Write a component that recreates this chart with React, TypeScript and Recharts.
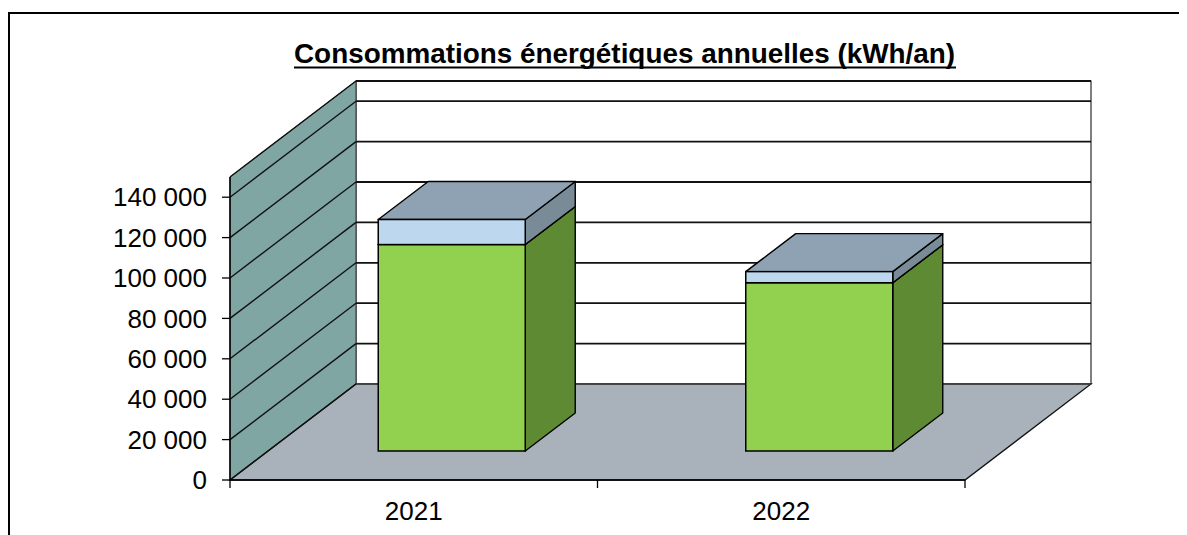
import React from 'react';
import { BarChart, Bar, XAxis, YAxis, CartesianGrid } from 'recharts';

if (typeof document !== 'undefined') {
  document.documentElement.style.overflow = 'hidden';
}

// ---- data ----
const categories = ['2021', '2022'];
const greenSeries = [102200, 83300];
const blueSeries = [12400, 5500];
const yTicks = [0, 20000, 40000, 60000, 80000, 100000, 120000, 140000];
const yMax = 150000;
const title = 'Consommations énergétiques annuelles (kWh/an)';

const data = categories.map((c, i) => ({ year: c, green: greenSeries[i], blue: blueSeries[i] }));

// ---- 3D geometry / styles ----
const FONT = '"Liberation Sans", Arial, Helvetica, sans-serif';
const WALL_DX = 126;
const WALL_DY = -96;
const BAR_FX = 38;
const BAR_FY = -29;
const BAR_DX = 50;
const BAR_DY = -38;

const fmt = (v: number) => String(v).replace(/\B(?=(\d{3})+(?!\d))/g, ' ');

const gridLine = (p: any) => {
  const { x1, x2, y1, index, horizontalPoints } = p;
  const pts: number[] = Array.isArray(horizontalPoints) && horizontalPoints.length ? horizontalPoints : [y1];
  const top = Math.min(...pts);
  const bottom = Math.max(...pts);
  const left = x1;
  const right = x2;
  const isBottom = Math.abs(y1 - bottom) < 0.5;
  return (
    <g key={`gl-${index}`}>
      {index === 0 && (
        <g>
          <rect
            x={left + WALL_DX}
            y={top + WALL_DY}
            width={right - left}
            height={bottom - top}
            fill="#ffffff"
            stroke="#000"
            strokeWidth={1}
          />
          <polygon
            points={`${left},${bottom} ${left + WALL_DX},${bottom + WALL_DY} ${left + WALL_DX},${top + WALL_DY} ${left},${top}`}
            fill="#80A6A4"
            stroke="#333"
            strokeWidth={1}
          />
          <polygon
            points={`${left},${bottom} ${right},${bottom} ${right + WALL_DX},${bottom + WALL_DY} ${left + WALL_DX},${bottom + WALL_DY}`}
            fill="#A9B2BB"
            stroke="#111"
            strokeWidth={1.3}
          />
        </g>
      )}
      <line
        x1={left + WALL_DX}
        y1={y1 + WALL_DY}
        x2={right + WALL_DX}
        y2={y1 + WALL_DY}
        stroke={isBottom ? '#555' : '#111'}
        strokeWidth={isBottom ? 1 : 1.8}
      />
      <line
        x1={left}
        y1={y1}
        x2={left + WALL_DX}
        y2={y1 + WALL_DY}
        stroke="#111"
        strokeWidth={1.4}
      />
    </g>
  );
};

const makeBox = (front: string, side: string, topColor: string | null) => (p: any) => {
  const { x, y, width, height } = p;
  if (x == null || y == null || !width || !height) return <g />;
  const fx = x + BAR_FX;
  const fy = y + BAR_FY;
  return (
    <g>
      <polygon
        points={`${fx + width},${fy} ${fx + width + BAR_DX},${fy + BAR_DY} ${fx + width + BAR_DX},${fy + height + BAR_DY} ${fx + width},${fy + height}`}
        fill={side}
        stroke="#000"
        strokeWidth={1.4}
        strokeLinejoin="round"
      />
      {topColor && (
        <polygon
          points={`${fx},${fy} ${fx + BAR_DX},${fy + BAR_DY} ${fx + width + BAR_DX},${fy + BAR_DY} ${fx + width},${fy}`}
          fill={topColor}
          stroke="#000"
          strokeWidth={1.4}
          strokeLinejoin="round"
        />
      )}
      <rect x={fx} y={fy} width={width} height={height} fill={front} stroke="#000" strokeWidth={1.5} />
    </g>
  );
};

const XTick = (p: any) => {
  const { x, y, payload, index, visibleTicksCount } = p;
  const half = payload && typeof payload.offset === 'number' ? payload.offset : 0;
  const xs = [x - half];
  if (index === visibleTicksCount - 1) xs.push(x + half);
  return (
    <g>
      {xs.map((lx, i) => (
        <line key={i} x1={lx} y1={y - 8} x2={lx} y2={y} stroke="#000" strokeWidth={1.3} />
      ))}
      <text x={x} y={y + 32} textAnchor="middle" fontSize={26} fontFamily={FONT} fill="#000">
        {payload.value}
      </text>
    </g>
  );
};

export default function App() {
  return (
    <div style={{ position: 'relative', width: 1171, height: 527 }}>
      <div
        style={{
          position: 'absolute',
          left: 0,
          top: 4,
          width: 1179,
          height: 523,
          borderTop: '2px solid #000',
          borderLeft: '2px solid #000',
          boxSizing: 'border-box',
        }}
      />
      <div style={{ position: 'absolute', left: -8, top: -8 }}>
        <BarChart
          width={1187}
          height={535}
          data={data}
          margin={{ top: 177, right: 222, bottom: 15, left: 100 }}
          barCategoryGap="30%"
        >
          <CartesianGrid vertical={false} horizontal={gridLine} stroke="#111" />
          <XAxis
            dataKey="year"
            height={40}
            tickLine={false}
            tickSize={8}
            tickMargin={0}
            axisLine={{ stroke: '#000', strokeWidth: 1.5 }}
            tick={<XTick />}
            interval={0}
          />
          <YAxis
            type="number"
            width={130}
            domain={[0, yMax]}
            ticks={yTicks}
            interval={0}
            tickFormatter={fmt}
            tickSize={8}
            tickMargin={15}
            axisLine={{ stroke: '#000', strokeWidth: 1.5 }}
            tickLine={{ stroke: '#000', strokeWidth: 1.3 }}
            tick={{ fontSize: 26, fill: '#000', fontFamily: FONT }}
          />
          <Bar
            dataKey="green"
            stackId="s"
            fill="#92D050"
            isAnimationActive={false}
            shape={makeBox('#92D050', '#5F8A34', '#6E9A3E')}
          />
          <Bar
            dataKey="blue"
            stackId="s"
            fill="#BDD7EE"
            isAnimationActive={false}
            shape={makeBox('#BDD7EE', '#7A8B98', '#8EA2B3')}
          />
        </BarChart>
      </div>
      <svg
        width={1187}
        height={90}
        style={{ position: 'absolute', left: -8, top: -8, pointerEvents: 'none' }}
      >
        <text
          x={294}
          y={63}
          fontSize={27}
          fontWeight="bold"
          fontFamily={FONT}
          fill="#000"
          textLength={661}
          lengthAdjust="spacingAndGlyphs"
        >
          {title}
        </text>
        <line x1={294} y1={67.5} x2={956} y2={67.5} stroke="#000" strokeWidth={2} />
      </svg>
    </div>
  );
}
